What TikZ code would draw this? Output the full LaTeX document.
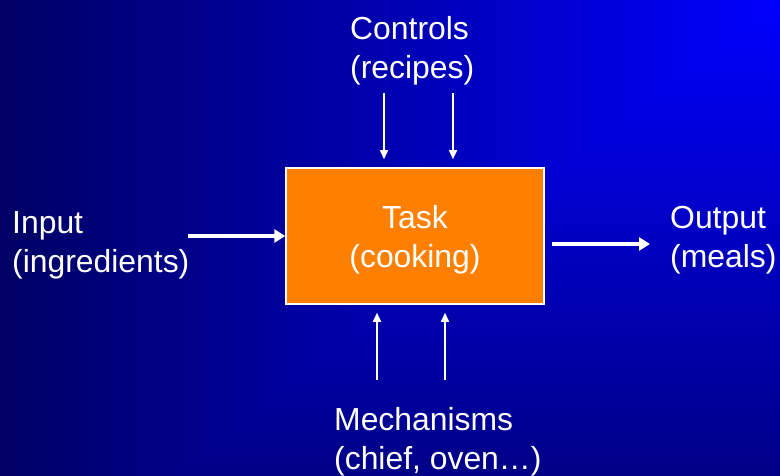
\documentclass[tikz,border=0pt]{standalone}
\usepackage{fontspec}
\setmainfont{Liberation Sans}
\usetikzlibrary{arrows.meta}

\definecolor{taskorange}{RGB}{255,128,0}

% a line of text set a little lower, keeping its own dimensions
\newcommand{\lowline}[1]{\raisebox{-4bp}[\height][\depth]{#1}}

\tikzset{
  label text/.style={text=white, font=\fontsize{32}{39}\selectfont, align=left, inner sep=0pt},
  task box/.style={draw=white, line width=1.5bp, fill=taskorange, text=white,
    font=\fontsize{32}{39}\selectfont, align=center,
    minimum width=258bp, minimum height=136bp, inner sep=0pt},
  thin flow/.style={draw=white, line width=1.5bp, -{Triangle[length=9bp,width=8bp]}},
  thick flow/.style={draw=white, line width=4bp, -{Triangle[length=11bp,width=13bp]}}
}

\begin{document}
\begin{tikzpicture}[x=1bp, y=-1bp]
  \useasboundingbox (0,0) rectangle (780,476);

  % background: blue fading out from the top right corner
  \foreach \i in {100,99,...,1}{
    \pgfmathsetmacro\t{\i/100}
    \pgfmathtruncatemacro\bval{255-153*\t}
    \definecolor{bgstep}{RGB}{0,0,\bval}
    \fill[bgstep] ({780-780*\t},0) rectangle (780,{610*\t});
  }

  % central activity
  \node[task box] (task) at (415,236) {\lowline{Task}\\\lowline{(cooking)}};

  % labels round the activity
  \node[label text, anchor=west] (controls) at (350,50.5) {Controls\\(recipes)};
  \node[label text, anchor=west] (input) at (12,245) {Input\\(ingredients)};
  \node[label text, anchor=west] (output) at (670,240) {Output\\(meals)};
  \node[label text, anchor=west] (mech) at (334,441.5) {Mechanisms\\(chief, oven\ldots)};

  % free ends of the connectors
  \coordinate (ctrlA) at (384,93);
  \coordinate (ctrlB) at (453,93);
  \coordinate (mechA) at (377,380);
  \coordinate (mechB) at (445,380);
  \coordinate (inStart) at (188,236);
  \coordinate (outEnd) at (650,244);

  % controls from above
  \draw[thin flow, shorten >=8bp] (ctrlA) -- (ctrlA |- task.north);
  \draw[thin flow, shorten >=8bp] (ctrlB) -- (ctrlB |- task.north);

  % mechanisms from below
  \draw[thin flow, shorten >=8bp] (mechA) -- (mechA |- task.south);
  \draw[thin flow, shorten >=8bp] (mechB) -- (mechB |- task.south);

  % input and output
  \draw[thick flow] (inStart) -- (inStart -| task.west);
  \draw[thick flow, shorten <=7bp] (outEnd -| task.east) -- (outEnd);
\end{tikzpicture}
\end{document}
